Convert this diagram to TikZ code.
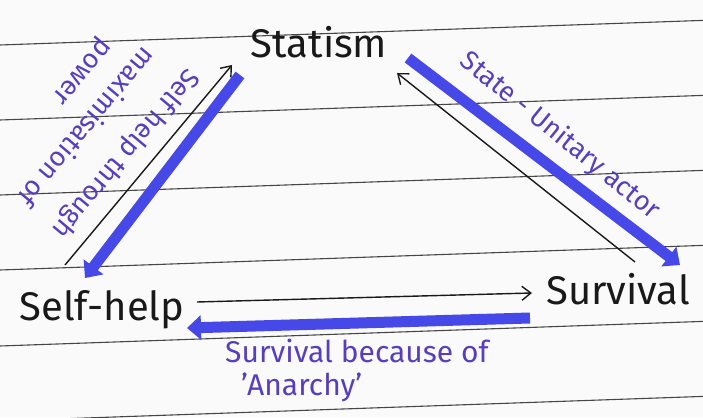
\documentclass[tikz,border=0pt]{standalone}
\usepackage{fontspec}
\setmainfont{Fira Sans}
\usetikzlibrary{arrows.meta,positioning}
\definecolor{paper}{RGB}{250,250,250}
\definecolor{ruleln}{RGB}{70,70,70}
\definecolor{ink}{RGB}{25,25,25}
\definecolor{hlblue}{RGB}{70,72,232}
\definecolor{penblue}{RGB}{88,62,190}
\tikzset{
  word/.style={inner sep=0pt, text=ink, font=\fontsize{40}{44}\selectfont},
  note/.style={inner sep=0pt, text=penblue, font=\fontsize{27}{32}\selectfont},
  pen/.style={-{Straight Barb[length=9pt,width=14pt]}, ink, line width=1.4pt},
  marker/.style={-{Triangle[length=14pt,width=24pt]}, hlblue, line width=11pt},
  ruled/.style={ruleln, line width=1.1pt},
}

\begin{document}
\begin{tikzpicture}[x=1pt,y=1pt]
  \fill[paper] (0,0) rectangle (703,417);
  \useasboundingbox (0,0) rectangle (703,417);
  % ruled paper
  \foreach \yy in {372,297,222,147,71,-4}
    \draw[ruled] (0,\yy) -- (703,\yy+24.6);

  \node[word] (statism) at (319,375) {Statism};
  \node[word] (selfhelp) at (102,107) {Self-help};
  \node[word] (survival) at (618,128) {Survival};

  % self-help <-> statism
  \draw[pen] ([shift={(-37,45)}]selfhelp.center) -- ([shift={(-87,-23)}]statism.center);
  \draw[marker] ([shift={(-79,-33)}]statism.center) -- ([shift={(-17,32)}]selfhelp.center);
  % statism <-> survival
  \draw[marker] ([shift={(89,-16)}]statism.center) -- ([shift={(62,24)}]survival.center);
  \draw[pen] ([shift={(17,27)}]survival.center) -- ([shift={(78,-31)}]statism.center);
  % self-help <-> survival
  \draw[pen] ([shift={(95,8)}]selfhelp.center) -- ([shift={(-86,-4)}]survival.center);
  \draw[marker] ([shift={(-88,-29)}]survival.center) -- ([shift={(85,-18)}]selfhelp.center);

  \node[note, rotate=-39] (unitary) at (560,281) {State - Unitary actor};
  \node[note, align=left, anchor=north west, font=\fontsize{30}{33}\selectfont] (anarchy) at (225,78) {Survival because of\\\hspace*{16pt}'Anarchy'};
  \node[note, rotate=230] (helpa) at (125,264) {Self help through};
  \node[note, rotate=230] (helpb) at (88,289) {maximisation of};
  \node[note, rotate=230] (helpc) at (80,347) {power};
\end{tikzpicture}
\end{document}
